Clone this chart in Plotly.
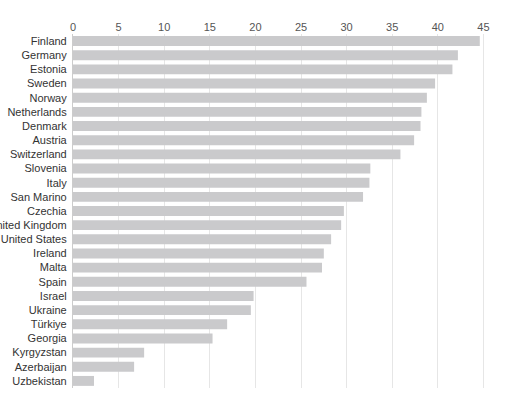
import plotly.graph_objects as go

countries = ["Finland", "Germany", "Estonia", "Sweden", "Norway", "Netherlands",
             "Denmark", "Austria", "Switzerland", "Slovenia", "Italy", "San Marino",
             "Czechia", "United Kingdom", "United States", "Ireland", "Malta", "Spain",
             "Israel", "Ukraine", "Türkiye", "Georgia", "Kyrgyzstan", "Azerbaijan",
             "Uzbekistan"]
values = [44.6, 42.2, 41.6, 39.7, 38.8, 38.2, 38.1, 37.4, 35.9, 32.6, 32.5, 31.8,
          29.7, 29.4, 28.3, 27.5, 27.3, 25.6, 19.8, 19.5, 16.9, 15.3, 7.8, 6.7, 2.3]
x_ticks = [0, 5, 10, 15, 20, 25, 30, 35, 40, 45]

fig = go.Figure()
fig.add_trace(go.Bar(x=values, y=countries, orientation="h",
                     marker=dict(color="#cacacc", line=dict(width=0)),
                     hoverinfo="x+y"))

fig.update_layout(width=518, height=416,
                  margin=dict(l=73, r=30, t=34, b=28),
                  paper_bgcolor="white", plot_bgcolor="white",
                  font=dict(family="Liberation Sans, Arial", size=11, color="#444"),
                  bargap=0.3, showlegend=False)
fig.update_xaxes(side="top", range=[0, 45.5], tickvals=x_ticks, automargin=False,
                 showgrid=True, gridcolor="#e6e6e6", gridwidth=1,
                 zeroline=False, ticks="", tickfont=dict(color="#555"))
fig.update_yaxes(autorange="reversed", showline=True, linecolor="#ccc", automargin=False,
                 ticks="", ticksuffix=" ", tickfont=dict(color="#333"))

# page has a default 8px body margin, drop it so the chart sits at 0,0
fig.write_html("out.html", config={"displayModeBar": False},
               post_script="document.body.style.margin='0';")
